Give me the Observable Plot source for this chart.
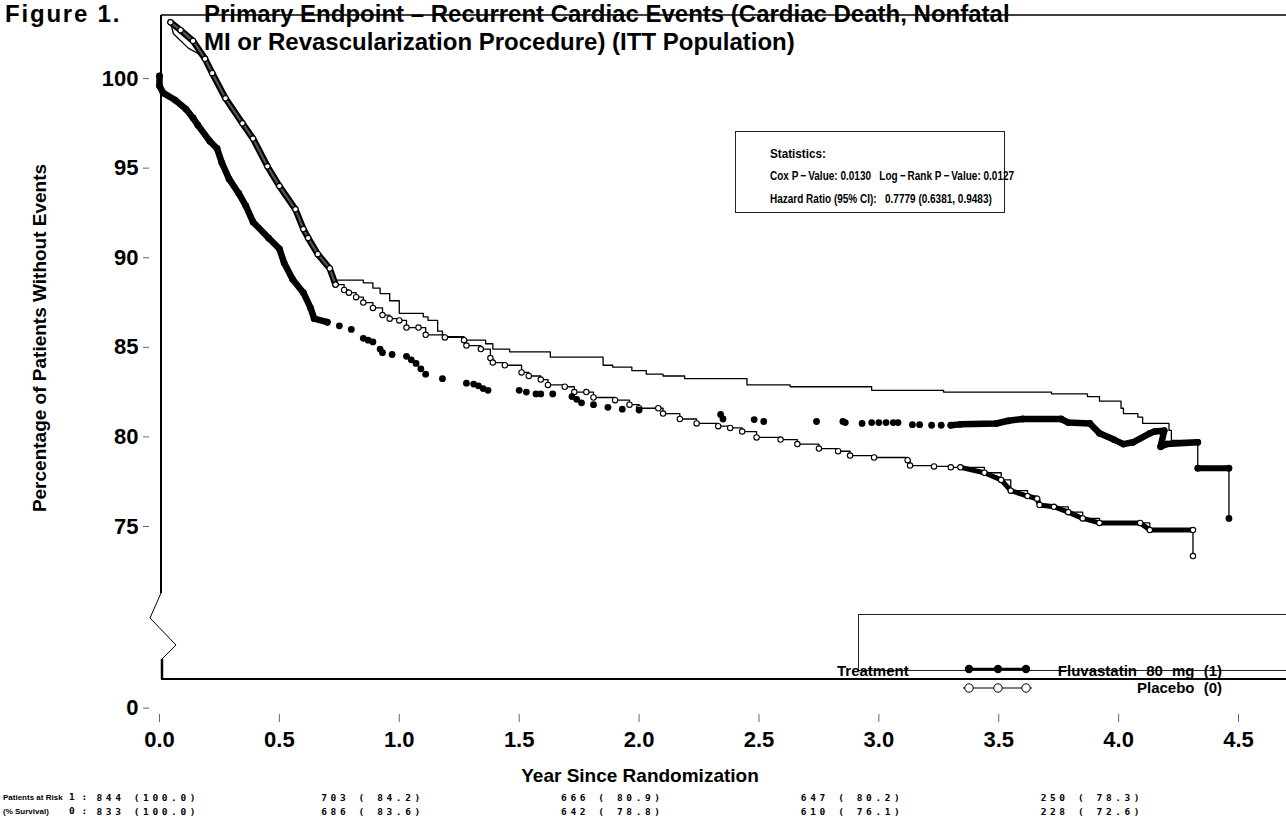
<!DOCTYPE html>
<html>
<head>
<meta charset="utf-8">
<script src="https://cdn.jsdelivr.net/npm/d3@7"></script>
<script src="https://cdn.jsdelivr.net/npm/@observablehq/plot@0.6"></script>
<style>
  body { margin: 0; background: #fff; font-family: "Liberation Sans", Arial, Helvetica, sans-serif; color: #000; }
  #wrap { position: relative; width: 1286px; height: 830px; overflow: hidden; background: #fff; }
  #chart { position: absolute; left: 0; top: 0; }
  .abs { position: absolute; white-space: pre; }
  #fig { left: 5px; top: 0px; font-size: 24px; font-weight: bold; line-height: 28px; letter-spacing: 1.8px; }
  #title { left: 204px; top: 0px; font-size: 24px; font-weight: bold; line-height: 28px; }
  #stats { left: 735px; top: 131px; width: 270px; height: 82px; border: 1px solid #222; box-sizing: border-box; }
  #stats div { position: absolute; left: 34px; font-size: 12.5px; font-weight: bold; white-space: pre;
               transform: scaleX(0.8); transform-origin: 0 50%; }
  #stats div.h { font-size: 13px; transform: scaleX(0.9); }
  #xtitle { left: 440px; width: 400px; text-align: center; top: 765px; font-size: 19px; font-weight: bold; }
  #ytitle { left: 40px; top: 338px; font-size: 19px; font-weight: bold; transform: translate(-50%, -50%) rotate(-90deg); }
  #legbox { left: 858px; top: 614px; width: 440px; height: 57px; border-top: 1px solid #222; border-left: 1px solid #222; border-bottom: 1px solid #222; box-sizing: border-box; }
  .leg { font-size: 15px; font-weight: bold; letter-spacing: 0; word-spacing: 5px; }
</style>
</head>
<body>
<div id="wrap">
  <div id="chart"></div>
  <div class="abs" id="fig">Figure 1.</div>
  <div class="abs" id="title"></div>
  <div class="abs" id="stats"></div>
  <div class="abs" id="xtitle"></div>
  <div class="abs" id="ytitle"></div>
  <div class="abs" id="legbox"></div>
  <div class="abs leg" id="legT" style="left:837px; top:662px;"></div>
  <div class="abs leg" id="leg1" style="right:64px; top:662px;"></div>
  <div class="abs leg" id="leg0" style="right:64px; top:679px;"></div>
  <svg class="abs" id="legsym" style="left:955px; top:660px;" width="85" height="38"></svg>
</div>
<script>
// ---------------- data ----------------
const titleLines = [
  "Primary Endpoint \u2013 Recurrent Cardiac Events (Cardiac Death, Nonfatal",
  "MI or Revascularization Procedure) (ITT Population)"
];
const xLabel = "Year Since Randomization";
const yLabel = "Percentage of Patients Without Events";
const xTicks = [0, 0.5, 1, 1.5, 2, 2.5, 3, 3.5, 4, 4.5];
const yTicks = [75, 80, 85, 90, 95, 100];
const yZeroLabel = "0";          // label shown below the axis break

const statsTitle = "Statistics:";
const coxP = "0.0130";
const logRankP = "0.0127";
const hazardRatio = "0.7779";
const ciLow = "0.6381";
const ciHigh = "0.9483";

const legendTitle = "Treatment";
const groupNames = ["Fluvastatin 80 mg (1)", "Placebo (0)"];

// Fluvastatin 80 mg (1): filled dots  [year, % without events]
const fluEarly = [[0,100.15],[0,99.6],[0.015,99.2],[0.065,98.8],[0.11,98.3],[0.14,97.8],[0.16,97.4],[0.21,96.5],
  [0.24,96.1],[0.26,95.3],[0.29,94.4],[0.33,93.6],[0.36,92.9],[0.39,92.0],[0.455,91.1],[0.50,90.5],[0.52,89.7],
  [0.555,88.8],[0.60,88.05],[0.63,87.2],[0.645,86.6],[0.70,86.4]];
const fluMiddle = [[0.75,86.2],[0.80,86.0],[0.85,85.5],[0.87,85.4],[0.89,85.3],[0.92,84.9],[0.93,84.7],[0.97,84.6],
  [1.03,84.5],[1.05,84.3],[1.07,84.1],[1.09,83.8],[1.11,83.5],[1.18,83.25],[1.28,83.0],[1.31,82.95],[1.33,82.85],
  [1.35,82.7],[1.37,82.6],[1.50,82.6],[1.53,82.5],[1.57,82.4],[1.59,82.4],[1.64,82.4],[1.72,82.25],[1.74,82.1],
  [1.76,81.9],[1.81,81.8],[1.87,81.65],[1.93,81.55],[2.0,81.5],[2.34,81.25],[2.35,81.0],[2.48,80.97],[2.52,80.86],
  [2.74,80.86],[2.85,80.86],[2.86,80.8],[2.93,80.75],[2.97,80.8],[3.00,80.8],[3.03,80.8],[3.06,80.8],[3.08,80.8],
  [3.14,80.68],[3.17,80.68],[3.22,80.65],[3.26,80.65]];
const fluLate = [[3.30,80.65],[3.34,80.7],[3.49,80.75],[3.54,80.9],[3.60,81.0],[3.76,81.0],[3.79,80.8],[3.88,80.75],
  [3.92,80.2],[3.98,79.85],[4.02,79.6],[4.06,79.7],[4.13,80.2],[4.15,80.3],[4.19,80.35],[4.175,79.45],[4.20,79.6],
  [4.33,79.7]];
const fluTail = [[4.33,78.25],[4.46,78.25]];
const fluLast = [[4.46,75.45]];

// Placebo (0): open circles
const placeboEarly = [[0.046,103.14],[0.088,102.7],[0.14,102.1],[0.19,101.1],[0.22,100.3],[0.275,98.9],[0.346,97.5],
  [0.39,96.65],[0.45,95.1],[0.50,94.0],[0.567,92.7],[0.60,91.6],[0.62,91.1],[0.66,90.2],[0.71,89.4],[0.734,88.5]];
const placeboMiddle = [[0.77,88.2],[0.79,88.05],[0.82,87.8],[0.85,87.5],[0.89,87.2],[0.93,86.8],[0.96,86.6],[1.0,86.5],
  [1.03,86.1],[1.08,86.1],[1.11,85.7],[1.19,85.55],[1.27,85.4],[1.28,85.1],[1.34,84.9],[1.38,84.4],[1.39,84.15],
  [1.44,84.0],[1.51,83.6],[1.54,83.4],[1.59,83.2],[1.62,82.9],[1.69,82.8],[1.73,82.5],[1.78,82.5],[1.81,82.2],
  [1.90,82.05],[1.96,81.8],[2.0,81.6],[2.08,81.6],[2.10,81.3],[2.17,81.0],[2.24,80.75],[2.33,80.6],[2.38,80.5],
  [2.43,80.3],[2.49,79.97],[2.59,79.85],[2.66,79.6],[2.75,79.35],[2.83,79.2],[2.88,78.96],[2.98,78.85],[3.12,78.7],
  [3.13,78.4],[3.23,78.35],[3.30,78.3]];
const placeboLate = [[3.34,78.3],[3.44,78.0],[3.51,77.6],[3.55,77.0],[3.62,76.7],[3.66,76.55],[3.67,76.2],[3.73,76.1],
  [3.79,75.8],[3.85,75.45],[3.92,75.2],[4.09,75.2],[4.13,74.8],[4.31,74.8]];
const placeboLast = [[4.31,73.35]];

// thin Kaplan-Meier step curve (dense early part, then visible steps)
const stepCurveEarly = [[0.046,103.14],[0.058,102.5],[0.12,101.7],[0.16,101.4],[0.19,101.0],[0.22,100.3],[0.275,98.9],
  [0.346,97.5],[0.39,96.65],[0.45,95.1],[0.50,94.0],[0.567,92.7],[0.60,91.6],[0.66,90.3],[0.705,89.4],[0.734,88.75]];
const stepCurveLate = [[0.734,88.75],
  [0.85,88.6],[0.89,88.3],[0.92,88.0],[0.96,87.6],[1.0,86.9],[1.10,86.7],[1.12,86.5],[1.16,85.9],[1.18,85.6],
  [1.27,85.4],[1.36,85.2],[1.39,84.9],[1.46,84.75],[1.63,84.45],[1.85,84.0],[1.89,83.9],[1.97,83.7],[2.03,83.5],
  [2.10,83.4],[2.19,83.25],[2.45,82.9],[2.63,82.8],[2.97,82.6],[3.27,82.5],[3.72,82.4],[3.87,82.25],[3.92,82.0],
  [4.01,81.6],[4.02,81.3],[4.08,81.1],[4.10,80.75],[4.21,80.36],[4.22,79.8],[4.33,78.2],[4.46,75.45]];

// patients at risk
const riskYears = [0, 1, 2, 3, 4];
const atRisk1 = [844, 703, 666, 647, 250];
const surv1 = [100.0, 84.2, 80.9, 80.2, 78.3];
const atRisk0 = [833, 686, 642, 610, 228];
const surv0 = [100.0, 83.6, 78.8, 76.1, 72.6];
const riskGroups = ["1 :", "0 :"];
const riskRowLabels = ["Patients at Risk", "(% Survival)"];

// ---------------- drawing ----------------
const FONT = "'Liberation Sans', Arial, Helvetica, sans-serif";
const MONO = "'DejaVu Sans Mono', 'Liberation Mono', monospace";
const X = d => d[0], Y = d => d[1];

const fluAll = [...fluEarly, ...fluMiddle, ...fluLate, ...fluTail, ...fluLast];
const placeboAll = [...placeboEarly, ...placeboMiddle, ...placeboLate, ...placeboLast];
const placeboSteps = [placeboEarly[placeboEarly.length - 1], ...placeboMiddle, ...placeboLate, ...placeboLast];

const fmtRisk = (n, s) => n + " (" + s.toFixed(1).padStart(5, " ") + ")";
const risk = [];
riskYears.forEach((t, i) => {
  risk.push({t, row: 0, first: i === 0, label: fmtRisk(atRisk1[i], surv1[i])});
  risk.push({t, row: 1, first: i === 0, label: fmtRisk(atRisk0[i], surv0[i])});
});

// geometry of the broken y axis: the main panel shows 66.5–103.5 %, the "0" sits just below the break
const yPanel = [66.46, 103.52];
const yZeroAt = yPanel[0] - 1.6;

const riskText = (row, first, dx) => Plot.text(risk.filter(d => d.row === row && d.first === first), {
  x: "t", text: "label", frameAnchor: "bottom", dy: row === 0 ? 121 : 135, dx,
  textAnchor: "start", fontFamily: MONO, fontSize: 9.5, fontWeight: "bold", fill: "black"});

const chart = Plot.plot({
  width: 1286,
  height: 830,
  marginLeft: 159,
  marginRight: 0,
  marginTop: 15,
  marginBottom: 151,
  style: {fontFamily: FONT, background: "transparent", color: "black", overflow: "visible"},
  x: {domain: [0, 4.7]},
  y: {domain: yPanel},
  marks: [
    Plot.axisX({ticks: xTicks, tickFormat: d => d.toFixed(1), dy: 35, tickSize: 8, tickPadding: 9,
      fontSize: 22, fontWeight: "bold", stroke: "#666", label: null}),
    Plot.axisY({ticks: [yZeroAt, ...yTicks], tickFormat: d => (d === yZeroAt ? yZeroLabel : String(d)),
      dx: -10, tickSize: 6, tickPadding: 5, fontSize: 22, fontWeight: "bold", stroke: "#666", label: null}),
    // thin step curve
    Plot.line(stepCurveEarly, {x: X, y: Y, stroke: "black", strokeWidth: 1.3}),
    Plot.line(stepCurveLate, {x: X, y: Y, curve: "step-after", stroke: "black", strokeWidth: 1.3}),
    // placebo
    Plot.line(placeboEarly, {x: X, y: Y, stroke: "black", strokeWidth: 6.5, strokeLinecap: "round", strokeLinejoin: "round"}),
    Plot.line(placeboEarly, {x: X, y: Y, stroke: "#555", strokeWidth: 2.2}),
    Plot.line(placeboSteps, {x: X, y: Y, curve: "step-after", stroke: "black", strokeWidth: 1.3}),
    Plot.line(placeboLate, {x: X, y: Y, stroke: "black", strokeWidth: 5, strokeLinecap: "round", strokeLinejoin: "round"}),
    Plot.dot(placeboAll, {x: X, y: Y, r: 2.7, stroke: "black", fill: "white", strokeWidth: 1.1}),
    // fluvastatin
    Plot.line(fluEarly, {x: X, y: Y, stroke: "black", strokeWidth: 6.5, strokeLinecap: "round", strokeLinejoin: "round"}),
    Plot.line(fluLate, {x: X, y: Y, stroke: "black", strokeWidth: 6.5, strokeLinecap: "round", strokeLinejoin: "round"}),
    Plot.line(fluTail, {x: X, y: Y, stroke: "black", strokeWidth: 6, strokeLinecap: "round"}),
    Plot.dot(fluAll, {x: X, y: Y, r: 3.4, fill: "black"}),
    // patients at risk
    riskText(0, true, -63), riskText(1, true, -63),
    riskText(0, false, -78), riskText(1, false, -78)
  ]
});
document.getElementById("chart").appendChild(chart);

const svg = d3.select(chart);
// monospaced at-risk figures with wide spacing
svg.selectAll("g").filter(function() { return this.getAttribute("font-family") === MONO; })
  .style("letter-spacing", "3.6px");

// row labels of the at-risk table
riskRowLabels.forEach((lab, i) => {
  svg.append("text").attr("x", 3).attr("y", 800 + i * 14).attr("font-size", 8).attr("font-weight", "bold")
    .attr("text-anchor", "start").attr("font-family", FONT).text(lab);
  svg.append("text").attr("x", 69).attr("y", 800 + i * 14).attr("font-size", 9.5).attr("font-weight", "bold")
    .attr("text-anchor", "start").attr("font-family", MONO).style("letter-spacing", "0.5px").text(riskGroups[i]);
});

// frame: top line, left axis line with break, bottom line
const sx = chart.scale("x"), sy = chart.scale("y");
const fLeft = sx.apply(0) + 2, fTop = sy.apply(yPanel[1]), fBottom = sy.apply(yPanel[0]), fRight = 1286;
const brk = sy.apply(yPanel[0] + 4.8);
svg.append("line").attr("x1", fLeft).attr("x2", fRight).attr("y1", fTop).attr("y2", fTop)
  .attr("stroke", "black").attr("stroke-width", 1.5);
svg.append("line").attr("x1", fLeft).attr("x2", fRight).attr("y1", fBottom).attr("y2", fBottom)
  .attr("stroke", "black").attr("stroke-width", 2);
svg.append("line").attr("x1", fLeft).attr("x2", fLeft).attr("y1", fTop).attr("y2", brk)
  .attr("stroke", "black").attr("stroke-width", 2);
svg.append("path").attr("d", `M${fLeft},${brk} L${fLeft - 11},${brk + 25} L${fLeft + 15},${brk + 52} L${fLeft + 1},${brk + 66}`)
  .attr("fill", "none").attr("stroke", "black").attr("stroke-width", 1);
svg.append("line").attr("x1", fLeft + 1).attr("x2", fLeft + 1).attr("y1", brk + 66).attr("y2", fBottom)
  .attr("stroke", "black").attr("stroke-width", 2.5);

// titles
document.getElementById("title").innerHTML = titleLines.join("<br>");
document.getElementById("xtitle").textContent = xLabel;
document.getElementById("ytitle").textContent = yLabel;

// statistics box
const stats = document.getElementById("stats");
[statsTitle,
 "Cox P\u2009\u2212\u2009Value: " + coxP + "   Log\u2009\u2212\u2009Rank P\u2009\u2212\u2009Value: " + logRankP,
 "Hazard Ratio (95% CI):   " + hazardRatio + " (" + ciLow + ", " + ciHigh + ")"
].forEach((s, i) => {
  const d = document.createElement("div");
  d.style.top = (14 + i * 23) + "px";
  if (i === 0) d.className = "h";
  d.textContent = s;
  stats.appendChild(d);
});

// legend
document.getElementById("legT").textContent = legendTitle;
document.getElementById("leg1").textContent = groupNames[0];
document.getElementById("leg0").textContent = groupNames[1];
const ls = d3.select("#legsym");
const lx = [14, 43, 71];
ls.append("line").attr("x1", lx[0]).attr("x2", lx[2]).attr("y1", 9).attr("y2", 9).attr("stroke", "black").attr("stroke-width", 2.5);
lx.forEach(x => ls.append("circle").attr("cx", x).attr("cy", 9).attr("r", 4.2).attr("fill", "black"));
ls.append("line").attr("x1", lx[0] - 6).attr("x2", lx[2] + 6).attr("y1", 28).attr("y2", 28).attr("stroke", "black").attr("stroke-width", 1);
lx.forEach(x => ls.append("circle").attr("cx", x).attr("cy", 28).attr("r", 4.2).attr("fill", "white").attr("stroke", "black").attr("stroke-width", 1));
</script>
</body>
</html>
